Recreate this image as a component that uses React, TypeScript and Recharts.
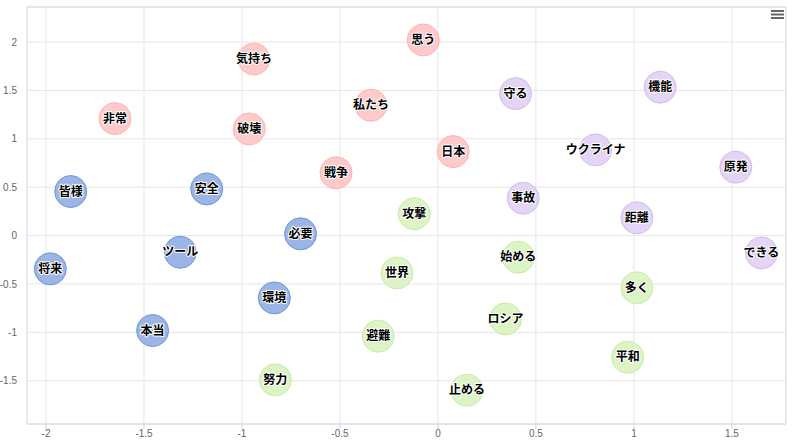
import React from "react";
import { ScatterChart, Scatter, XAxis, YAxis, CartesianGrid } from "recharts";

type Pt = { word: string; x: number; y: number };

const xTicks = [-2, -1.5, -1, -0.5, 0, 0.5, 1, 1.5];
const yTicks = [-1.5, -1, -0.5, 0, 0.5, 1, 1.5, 2];

const redWords: Pt[] = [
  { word: "気持ち", x: -0.939, y: 1.825 },
  { word: "非常", x: -1.648, y: 1.209 },
  { word: "破壊", x: -0.963, y: 1.102 },
  { word: "私たち", x: -0.342, y: 1.347 },
  { word: "戦争", x: -0.52, y: 0.648 },
  { word: "思う", x: -0.075, y: 2.022 },
  { word: "日本", x: 0.078, y: 0.868 },
];

const blueWords: Pt[] = [
  { word: "皆様", x: -1.874, y: 0.455 },
  { word: "安全", x: -1.18, y: 0.482 },
  { word: "必要", x: -0.701, y: 0.018 },
  { word: "ツール", x: -1.315, y: -0.172 },
  { word: "将来", x: -1.978, y: -0.344 },
  { word: "環境", x: -0.835, y: -0.644 },
  { word: "本当", x: -1.456, y: -0.981 },
];

const greenWords: Pt[] = [
  { word: "攻撃", x: -0.121, y: 0.225 },
  { word: "世界", x: -0.209, y: -0.386 },
  { word: "避難", x: -0.305, y: -1.039 },
  { word: "努力", x: -0.83, y: -1.491 },
  { word: "始める", x: 0.41, y: -0.223 },
  { word: "多く", x: 1.015, y: -0.54 },
  { word: "ロシア", x: 0.345, y: -0.861 },
  { word: "平和", x: 0.968, y: -1.257 },
  { word: "止める", x: 0.148, y: -1.597 },
];

const purpleWords: Pt[] = [
  { word: "守る", x: 0.396, y: 1.467 },
  { word: "機能", x: 1.134, y: 1.533 },
  { word: "ウクライナ", x: 0.804, y: 0.885 },
  { word: "原発", x: 1.52, y: 0.707 },
  { word: "事故", x: 0.435, y: 0.386 },
  { word: "距離", x: 1.015, y: 0.183 },
  { word: "できる", x: 1.651, y: -0.179 },
];

const seriesList = [
  { name: "red", data: redWords, fill: "#ffcaca", stroke: "#ffb3b3" },
  { name: "blue", data: blueWords, fill: "#9bb5e6", stroke: "#6e95dd" },
  { name: "green", data: greenWords, fill: "#ddf5c5", stroke: "#c8eba9" },
  { name: "purple", data: purpleWords, fill: "#e4d5f7", stroke: "#d2bbf1" },
];

const tickStyle = { fill: "#666666", fontSize: 10, fontFamily: "'Liberation Sans', Arial, sans-serif" };

function circleShape(fill: string, stroke: string) {
  return (props: any) => {
    const { cx, cy } = props;
    if (cx == null || cy == null) return <g />;
    return <circle cx={cx} cy={cy} r={16} fill={fill} stroke={stroke} strokeWidth={1} />;
  };
}

const labelShape = (props: any) => {
  const { cx, cy, payload } = props;
  if (cx == null || cy == null) return <g />;
  return (
    <text
      x={cx}
      y={cy - 1.5}
      textAnchor="middle"
      dominantBaseline="central"
      fontSize={12}
      fontWeight="bold"
      fontFamily="'Noto Sans CJK JP', sans-serif"
      fill="#000000"
      stroke="#ffffff"
      strokeWidth={2}
      strokeLinejoin="round"
      paintOrder="stroke"
    >
      {payload.word}
    </text>
  );
};

export default function App() {
  return (
    <div style={{ position: "absolute", left: 0, top: 0, width: 800, height: 448, background: "#fff" }}>
      <ScatterChart width={800} height={448} margin={{ top: 7, right: 14, bottom: 0, left: 0 }}>
        <CartesianGrid stroke="#e6e6e6" strokeWidth={1} />
        <XAxis
          type="number"
          dataKey="x"
          domain={[-2.097, 1.776]}
          ticks={xTicks}
          interval={0}
          allowDataOverflow
          height={24}
          axisLine={{ stroke: "#ccd6eb" }}
          tickLine={{ stroke: "#ccd6eb" }}
          tickSize={5}
          tickMargin={1}
          tick={tickStyle}
        />
        <YAxis
          type="number"
          dataKey="y"
          domain={[-1.947, 2.362]}
          ticks={yTicks}
          interval={0}
          allowDataOverflow
          width={27}
          axisLine={{ stroke: "#dde3f0" }}
          tickLine={false}
          tickSize={0}
          tickMargin={10}
          tick={tickStyle}
        />
        {seriesList.map((s) => (
          <Scatter
            key={s.name}
            name={s.name}
            data={s.data}
            isAnimationActive={false}
            shape={circleShape(s.fill, s.stroke)}
          />
        ))}
        {seriesList.map((s) => (
          <Scatter
            key={s.name + "-label"}
            name={s.name + "-label"}
            data={s.data}
            isAnimationActive={false}
            shape={labelShape}
          />
        ))}
      </ScatterChart>
      <div
        style={{
          position: "absolute",
          left: 27,
          top: 6,
          width: 759,
          height: 418,
          borderTop: "2px solid #e6e6e6",
          borderRight: "1px solid #e0e0e0",
          boxSizing: "border-box",
          pointerEvents: "none",
        }}
      />
      <svg style={{ position: "absolute", left: 770, top: 8 }} width={16} height={14}>
        <line x1={1} x2={14} y1={3} y2={3} stroke="#666" strokeWidth={2} />
        <line x1={1} x2={14} y1={6.5} y2={6.5} stroke="#666" strokeWidth={2} />
        <line x1={1} x2={14} y1={10} y2={10} stroke="#666" strokeWidth={2} />
      </svg>
    </div>
  );
}
